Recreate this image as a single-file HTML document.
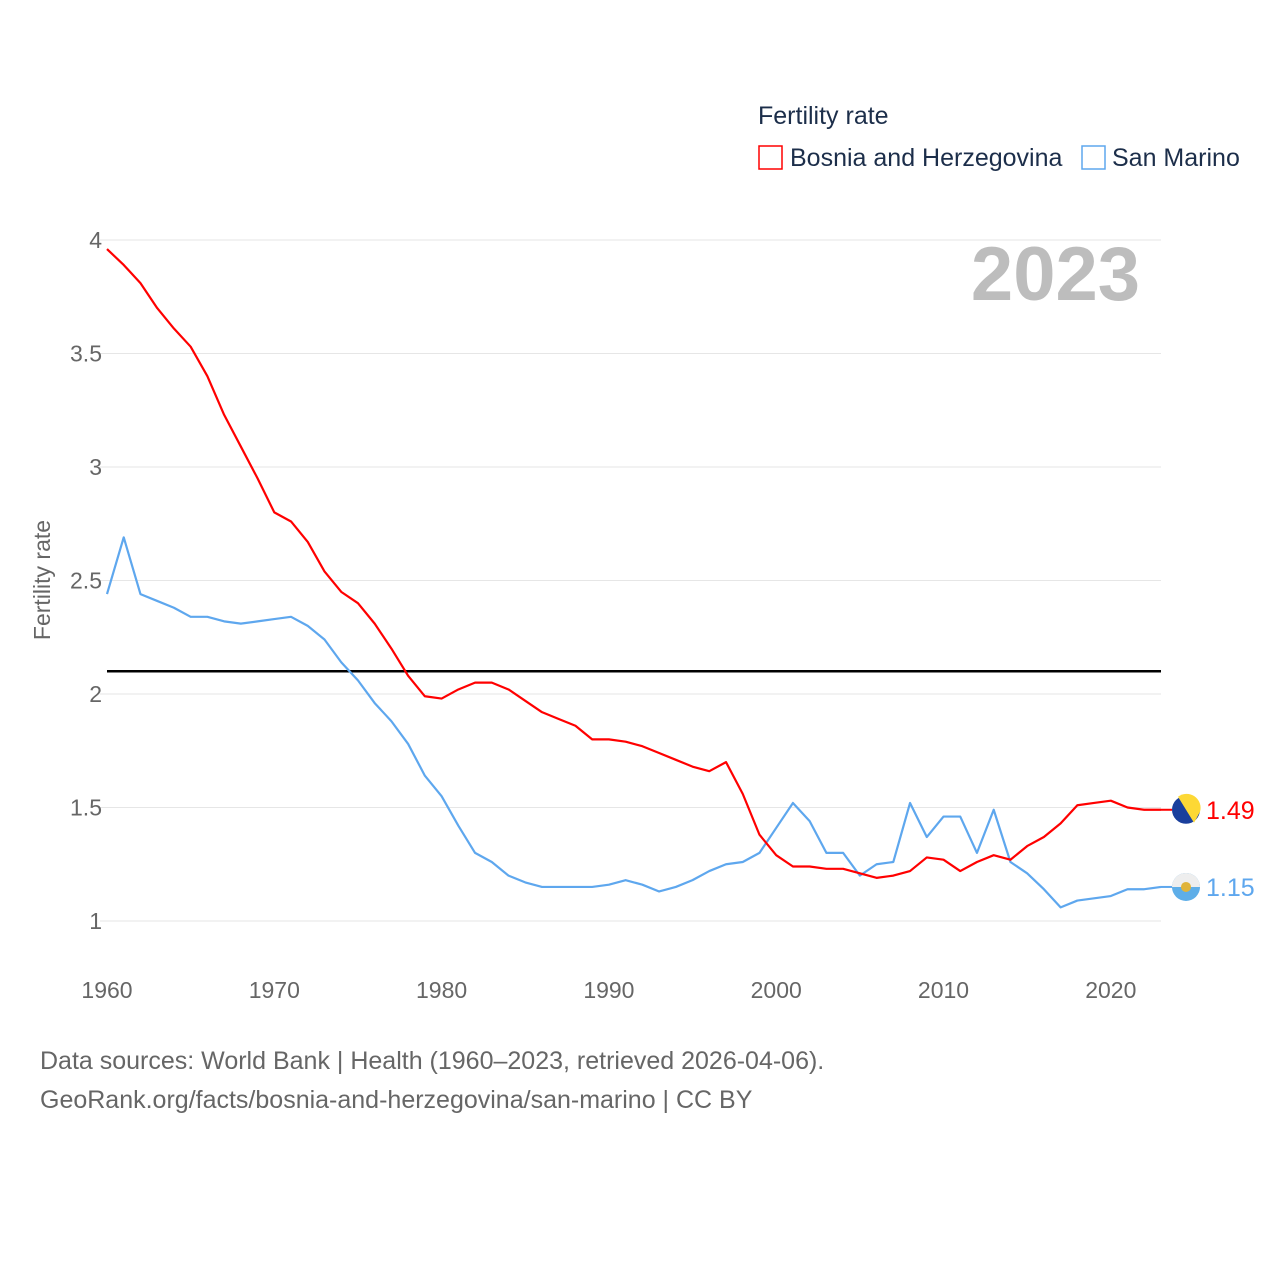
<!DOCTYPE html>
<html><head><meta charset="utf-8"><style>
body{margin:0;background:#fff;font-family:"Liberation Sans",sans-serif}
svg text{font-family:"Liberation Sans",sans-serif}
</style></head><body>
<svg id="c" width="1280" height="1280" xmlns="http://www.w3.org/2000/svg">
<rect width="1280" height="1280" fill="#fff"/>
<g id="grid"></g>
<g id="lines"></g>
<text x="1140" y="300" text-anchor="end" font-size="76" font-weight="bold" fill="#bdbdbd">2023</text>
<text transform="translate(50,580) rotate(-90)" text-anchor="middle" font-size="23" fill="#666">Fertility rate</text>
<g>
<text x="758" y="124" font-size="25" fill="#1c2e4a">Fertility rate</text>
<g><rect x="759" y="146" width="23" height="23" fill="none" stroke="#f00" stroke-width="1.5"/><text x="790" y="166" font-size="25" fill="#1c2e4a">Bosnia and Herzegovina</text></g>
<g><rect x="1082" y="146" width="23" height="23" fill="none" stroke="#5ea7ee" stroke-width="1.5"/><text x="1112" y="166" font-size="25" fill="#1c2e4a">San Marino</text></g>
</g>
<text x="40" y="1069" font-size="25" fill="#666">Data sources: World Bank | Health (1960–2023, retrieved 2026-04-06).</text>
<text x="40" y="1108" font-size="25" fill="#666">GeoRank.org/facts/bosnia-and-herzegovina/san-marino | CC BY</text>
</svg>
<script>
const years=[];for(let y=1960;y<=2023;y++)years.push(y);
const bosnia=[3.96,3.89,3.81,3.70,3.61,3.53,3.40,3.23,3.09,2.95,2.80,2.76,2.67,2.54,2.45,2.40,2.31,2.20,2.08,1.99,1.98,2.02,2.05,2.05,2.02,1.97,1.92,1.89,1.86,1.80,1.80,1.79,1.77,1.74,1.71,1.68,1.66,1.70,1.56,1.38,1.29,1.24,1.24,1.23,1.23,1.21,1.19,1.20,1.22,1.28,1.27,1.22,1.26,1.29,1.27,1.33,1.37,1.43,1.51,1.52,1.53,1.50,1.49,1.49];
const sanMarino=[2.44,2.69,2.44,2.41,2.38,2.34,2.34,2.32,2.31,2.32,2.33,2.34,2.30,2.24,2.14,2.06,1.96,1.88,1.78,1.64,1.55,1.42,1.30,1.26,1.20,1.17,1.15,1.15,1.15,1.15,1.16,1.18,1.16,1.13,1.15,1.18,1.22,1.25,1.26,1.30,1.41,1.52,1.44,1.30,1.30,1.20,1.25,1.26,1.52,1.37,1.46,1.46,1.30,1.49,1.26,1.21,1.14,1.06,1.09,1.10,1.11,1.14,1.14,1.15];
const yTicks=[1,1.5,2,2.5,3,3.5,4];
const xTicks=[1960,1970,1980,1990,2000,2010,2020];
const refLine=2.1;
const X=v=>107+(v-1960)*(1161-107)/63;
const Y=v=>921-(v-1)*227;
const NS="http://www.w3.org/2000/svg";
function mk(tag,attrs,parent){const e=document.createElementNS(NS,tag);for(const k in attrs)e.setAttribute(k,attrs[k]);parent.appendChild(e);return e;}
const grid=document.getElementById('grid'),lines=document.getElementById('lines');
yTicks.forEach(t=>{
 const l=mk('line',{x1:100,x2:1161,y1:Y(t),y2:Y(t),stroke:'#e6e6e6','stroke-width':1},grid);
 
 
 const tx=mk('text',{x:102,y:Y(t)+8,'text-anchor':'end','font-size':23,fill:'#666'},grid);
 tx.textContent=String(t);
 
 
});
xTicks.forEach(t=>{
 const tx=mk('text',{x:X(t),y:998,'text-anchor':'middle','font-size':23,fill:'#666'},grid);
 tx.textContent=String(t);
 
 
});
const rl=mk('line',{x1:107,x2:1161,y1:Y(refLine),y2:Y(refLine),stroke:'#000','stroke-width':2.5},grid);


function series(vals,color,name){
 const p=mk('polyline',{points:vals.map((v,i)=>X(years[i])+','+Y(v)).join(' '),fill:'none',stroke:color,'stroke-width':2.2,'stroke-linejoin':'round'},lines);
 
 
}
series(sanMarino,'#5ea7ee','san-marino-line');
series(bosnia,'#f00','bosnia-line');
function endLabel(vals,color,name,flag){
 const last=vals[vals.length-1],cx=X(2023)+25,cy=Y(last);
 const g=mk('g',{},lines);
 
 
 mk('line',{x1:X(2023),x2:cx-14,y1:cy,y2:cy,stroke:color,'stroke-width':2},g);
 if(flag==='ba'){
  mk('circle',{cx:cx,cy:cy,r:14,fill:'#1a3f9c'},g);
  mk('path',{d:`M${cx-8} ${cy-13} L${cx+8} ${cy+13} L${cx+14} ${cy+2} A14 14 0 0 0 ${cx-8} ${cy-13}Z`,fill:'#fdd835'},g);
 }else{
  mk('circle',{cx:cx,cy:cy,r:14,fill:'#5eaee8'},g);
  mk('path',{d:`M${cx-14} ${cy} A14 14 0 0 1 ${cx+14} ${cy}Z`,fill:'#eee'},g);
  mk('circle',{cx:cx,cy:cy,r:5,fill:'#e0b43a'},g);
 }
 const t=mk('text',{x:cx+20,y:cy+9,'font-size':25,fill:color},lines);
 t.textContent=last.toFixed(2);
 
 
}
endLabel(bosnia,'#f00','bosnia','ba');
endLabel(sanMarino,'#5ea7ee','san-marino','sm');
</script>
</body></html>
